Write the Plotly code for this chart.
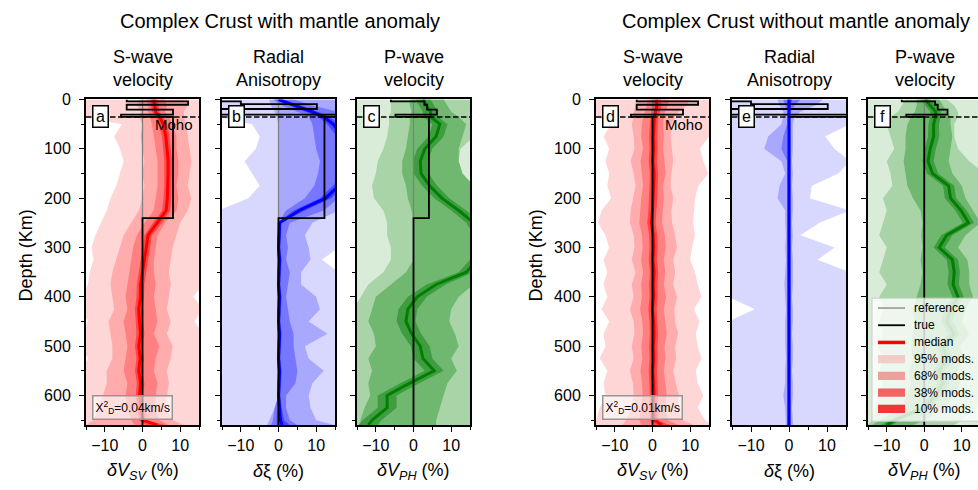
import plotly.graph_objects as go

FONT = "Liberation Sans, Arial, Helvetica, sans-serif"
W, H = 978, 490

# ---------------- data ----------------
depth = [0, 12, 25, 35, 50, 75, 100, 125, 150, 175, 200, 225, 250, 275, 300,
         325, 350, 375, 400, 425, 450, 475, 500, 525, 550, 575, 600, 625, 650, 660]

# panel a : dVsv, with mantle anomaly
a_med = [3.0, 3.2, 3.5, 4.5, 5.5, 6.2, 6.5, 6.8, 6.8, 6.8, 6.6, 6.3, 4.0, 1.5, 1.0, 0.5, 0.0, -0.5, -0.5, -1.0, -0.8, -0.5, -1.0, -0.6, -1.0, -0.5, -0.8, -0.5, 0.0, 4.0]
a_10lo = [2.0, 2.2, 2.5, 3.5, 4.3, 5.2, 5.5, 5.8, 5.8, 5.8, 5.6, 5.2, 2.8, 0.5, 0.0, -0.5, -1.0, -1.5, -1.6, -2.0, -1.8, -1.6, -2.0, -1.6, -2.0, -1.5, -1.8, -1.5, -1.0, 1.0]
a_10hi = [4.0, 4.2, 4.5, 5.5, 6.5, 7.2, 7.5, 7.8, 7.8, 7.8, 7.6, 7.4, 5.2, 2.5, 2.0, 1.5, 1.0, 0.5, 0.4, 0.0, 0.2, 0.5, 0.0, 0.4, 0.0, 0.5, 0.2, 0.5, 1.0, 6.0]
a_38lo = [1.0, 1.5, 1.5, 2.0, 2.5, 3.0, 3.5, 4.0, 4.0, 4.0, 3.5, 3.0, 0.5, -1.5, -2.5, -3.0, -3.5, -4.0, -4.5, -4.0, -5.0, -4.5, -4.0, -4.5, -5.0, -4.0, -4.5, -4.0, -3.0, -2.0]
a_38hi = [6.0, 6.5, 6.0, 7.0, 8.0, 9.0, 9.0, 9.5, 9.5, 9.0, 9.5, 9.0, 6.0, 4.0, 3.5, 3.0, 3.0, 3.5, 3.0, 3.5, 4.0, 3.0, 4.5, 3.5, 3.0, 4.0, 3.5, 3.0, 4.5, 7.0]
a_68lo = [-1.0, -1.5, -0.5, -1.0, 0.0, -0.5, 0.0, 0.5, 0.0, 0.5, 0.0, -1.0, -3.0, -5.0, -6.0, -7.0, -8.0, -8.5, -8.0, -7.5, -9.0, -8.5, -8.0, -8.0, -9.5, -9.5, -10.5, -11.5, -13.0, -15.0]
a_68hi = [12.0, 12.0, 11.0, 11.0, 11.5, 12.0, 12.5, 13.0, 12.5, 12.0, 13.0, 12.0, 10.0, 9.0, 8.0, 7.5, 7.0, 7.5, 7.0, 6.5, 7.5, 6.5, 8.0, 7.5, 6.5, 7.0, 6.5, 6.0, 8.0, 11.0]
a_95lo = [-16, -16, -16, -16, -5.5, -7.5, -6.0, -5.0, -6.0, -7.0, -8.5, -9.5, -11.0, -12.5, -13.5, -13.0, -14.0, -14.5, -16, -16, -14.5, -16, -16, -14.5, -16, -16, -16, -16, -16, -16]
a_95hi = [16, 16, 16, 16, 16, 16, 16, 16, 16, 16, 16, 16, 16, 16, 16, 16, 16, 16, 13.5, 16, 13.8, 16, 16, 16, 16, 16, 16, 16, 16, 16]

# panel b : dxi, with mantle anomaly
b_med = [0.0, 4.5, 9.0, 12.0, 14.5, 17.0, 18.0, 18.0, 18.0, 16.0, 12.5, 5.5, 0.3, 0.2, 0.0, 0.3, 0.2, 0.0, 0.3, 0.2, 0.0, 0.3, 0.2, 0.0, 0.3, 0.2, 0.0, 0.3, 0.5, 1.0]
b_10lo = [-1.0, 3.0, 7.5, 10.5, 13.0, 15.5, 16.5, 16.5, 16.5, 14.5, 11.0, 4.0, -0.2, -0.3, -0.4, -0.2, -0.3, -0.4, -0.2, -0.3, -0.4, -0.2, -0.3, -0.4, -0.2, -0.3, -0.4, -0.5, -0.5, -0.5]
b_10hi = [1.0, 6.0, 10.5, 13.5, 16.0, 18.5, 19.5, 19.5, 19.5, 17.5, 14.0, 7.0, 0.8, 0.7, 0.5, 0.8, 0.7, 0.5, 0.8, 0.7, 0.5, 0.8, 0.7, 0.5, 0.8, 0.7, 0.5, 0.8, 1.5, 3.0]
b_38lo = [-1.5, 1.0, 5.0, 8.0, 9.0, 9.5, 10.0, 11.0, 10.5, 9.5, 7.0, 2.0, 0.0, 0.0, 0.0, 0.0, 0.0, 0.0, 0.0, 0.0, 0.0, 0.0, 0.0, 0.0, 0.0, 0.0, 0.0, -1.0, -1.5, -2.0]
b_38hi = [4.0, 9.0, 16, 16, 16, 16, 16, 16, 16, 16, 16, 12.0, 3.0, 2.0, 2.5, 2.0, 3.0, 2.5, 2.0, 2.5, 3.0, 4.0, 4.0, 4.5, 5.0, 4.5, 2.0, 2.0, 3.0, 5.0]
b_68lo = [-2.5, -2.0, -1.0, -0.5, 0.0, 0.0, 0.2, 0.2, 0.2, 0.2, 0.2, 0.2, 0.0, 0.0, 0.0, 0.0, 0.0, 0.0, 0.0, 0.0, 0.0, 0.0, 0.0, 0.0, 0.0, 0.0, 0.0, -1.0, -2.5, -3.0]
b_68hi = [16, 16, 16, 16, 16, 16, 16, 16, 16, 16, 16, 16, 9.0, 7.0, 8.0, 8.5, 6.0, 6.0, 10.0, 11.0, 8.0, 13.0, 7.0, 8.0, 12.0, 9.0, 8.0, 8.5, 10.0, 15.0]
b_95lo = [-16, -16, -16, -16, -7.0, -5.0, -6.0, -9.0, -7.0, -5.0, -8.0, -16, -16, -16, -16, -16, -16, -16, -16, -16, -16, -16, -16, -16, -16, -16, -16, -16, -16, -16]
b_95hi = [16, 16, 16, 16, 16, 16, 16, 16, 16, 16, 16, 16, 16, 16, 16, 11.5, 16, 16, 16, 16, 16, 16, 16, 16, 16, 16, 16, 16, 16, 16]

# panel c : dVph, with mantle anomaly
c_med = [2.5, 3.5, 4.5, 4.5, 7.0, 6.0, 3.0, 1.8, 2.0, 4.3, 7.5, 12.0, 16.0, 18.0, 18.0, 17.0, 14.0, 6.0, 1.0, -1.5, -2.0, -0.5, 1.8, 2.5, 5.5, -1.0, -7.0, -7.0, -11.0, -12.0]
c_10lo = [0.5, 1.5, 2.5, 2.5, 5.0, 4.0, 1.0, -0.2, 0.0, 2.3, 5.5, 10.0, 14.0, 16.0, 16.0, 15.0, 12.0, 3.5, -1.5, -4.0, -4.5, -3.0, -0.7, 0.0, 3.0, -3.5, -9.5, -9.5, -13.5, -14.5]
c_10hi = [4.5, 5.5, 6.5, 6.5, 9.0, 8.0, 5.0, 3.8, 4.0, 6.3, 9.5, 14.0, 18.0, 20.0, 20.0, 19.0, 16.0, 8.5, 3.5, 1.0, 0.5, 2.0, 4.3, 5.0, 8.0, 1.5, -4.5, -4.5, -8.5, -9.5]
c_38lo = [-1.0, -1.0, -0.5, -1.0, -1.0, -1.5, -2.0, -3.0, -3.0, -2.0, -1.5, -0.5, 0.0, 0.0, 0.0, 0.0, -2.0, -6.0, -10.0, -11.0, -12.0, -10.5, -10.0, -12.0, -11.0, -12.0, -11.5, -13.0, -14.0, -14.5]
c_38hi = [8.0, 9.0, 10.0, 12.0, 14.0, 13.0, 12.0, 12.0, 13.0, 16, 16, 16, 16, 16, 16, 16, 16, 16, 12.0, 10.0, 9.5, 11.0, 12.0, 10.0, 11.5, 9.0, 8.0, 7.0, 6.0, 6.0]
c_68lo = [-6.0, -6.0, -6.0, -6.5, -6.5, -7.0, -8.0, -9.5, -10.0, -11.0, -10.5, -8.0, -7.0, -7.0, -6.0, -6.0, -8.0, -12.0, -14.0, -16, -16, -16, -16, -16, -16, -16, -16, -16, -16, -16]
c_68hi = [16, 16, 16, 16, 16, 16, 12.5, 12.0, 13.0, 16, 16, 16, 16, 16, 16, 16, 16, 16, 16, 16, 16, 16, 16, 16, 16, 16, 16, 16, 16, 16]
c_95lo = [-16] * 30
c_95hi = [16] * 30

# panel d : dVsv, without mantle anomaly
d_med = [1.0, 1.2, 0.8, 0.5, 0.4, 0.2, 0.3, 0.1, 0.4, 0.3, 0.2, 0.0, -0.3, 0.2, 0.3, 0.1, 0.4, 0.2, 0.3, 0.0, 0.3, 0.4, 0.2, 0.3, 0.1, 0.3, 0.4, 0.2, 0.5, 2.5]
d_10lo = [-0.2, 0.0, -0.3, -0.5, -0.7, -0.9, -0.8, -1.0, -0.7, -0.8, -0.9, -1.1, -1.4, -0.9, -0.8, -1.0, -0.7, -0.9, -0.8, -1.1, -0.8, -0.7, -0.9, -0.8, -1.0, -0.8, -0.7, -0.9, -0.6, 0.5]
d_10hi = [2.2, 2.4, 2.0, 1.5, 1.5, 1.3, 1.4, 1.2, 1.5, 1.4, 1.3, 1.1, 0.8, 1.3, 1.4, 1.2, 1.5, 1.3, 1.4, 1.1, 1.4, 1.5, 1.3, 1.4, 1.2, 1.4, 1.5, 1.3, 1.6, 4.5]
d_38lo = [-1.5, -1.5, -2.0, -2.5, -2.8, -3.0, -2.5, -3.2, -2.8, -2.5, -3.0, -3.2, -3.5, -2.8, -2.6, -3.0, -2.5, -3.0, -2.8, -3.3, -2.7, -2.5, -3.0, -2.7, -3.2, -2.8, -2.6, -3.0, -3.5, -3.0]
d_38hi = [4.5, 4.0, 3.5, 3.0, 2.8, 3.0, 2.8, 3.2, 3.5, 2.8, 3.0, 2.7, 2.5, 3.3, 3.5, 3.0, 3.4, 3.0, 3.6, 3.0, 3.3, 3.8, 3.2, 3.4, 3.0, 3.5, 3.8, 3.2, 4.0, 7.0]
d_68lo = [-4.0, -4.5, -5.0, -5.0, -5.5, -5.0, -4.8, -5.8, -5.0, -4.5, -5.2, -5.8, -6.0, -5.0, -4.8, -5.5, -4.5, -5.5, -5.0, -6.0, -5.0, -4.8, -5.5, -5.0, -6.0, -5.2, -5.0, -5.5, -7.0, -8.0]
d_68hi = [10.0, 9.0, 7.0, 6.0, 5.0, 4.8, 5.2, 5.5, 5.0, 4.8, 5.5, 5.0, 5.2, 6.0, 6.5, 5.5, 6.0, 5.5, 6.5, 5.8, 6.0, 6.8, 6.0, 6.3, 5.5, 6.2, 7.0, 6.5, 8.0, 11.0]
d_95lo = [-16, -16, -16, -15, -11.0, -13.0, -11.5, -12.5, -11.5, -12.0, -11.0, -13.5, -14.5, -12.5, -11.5, -13.0, -12.0, -13.0, -12.0, -13.5, -11.5, -13.0, -12.5, -14.0, -12.0, -13.0, -12.5, -14.0, -15.0, -16]
d_95hi = [16, 16, 16, 16, 16, 15.0, 12.6, 13.5, 14.8, 12.2, 11.3, 11.0, 10.8, 11.3, 10.5, 10.0, 11.3, 12.0, 13.0, 11.0, 12.5, 11.5, 12.0, 13.0, 11.5, 12.0, 13.5, 12.0, 14.0, 16]

# panel e : dxi, without mantle anomaly
e_med = [0.0, 0.0, 0.0, 0.0, 0.0, 0.0, 0.0, 0.0, 0.0, 0.0, 0.0, 0.0, 0.0, 0.0, 0.0, 0.0, 0.0, 0.0, 0.0, 0.0, 0.0, 0.0, 0.0, 0.0, 0.0, 0.0, 0.0, 0.0, 0.0, 0.0]
e_10lo = [-0.5, -0.3, -0.2, -0.2, -0.2, -0.3, -0.3, -0.2, -0.2, -0.2, -0.2, -0.2, -0.2, -0.2, -0.2, -0.2, -0.2, -0.2, -0.2, -0.2, -0.2, -0.2, -0.2, -0.2, -0.2, -0.2, -0.2, -0.2, -0.2, -0.2]
e_10hi = [0.8, 0.5, 0.2, 0.2, 0.2, 0.2, 0.2, 0.2, 0.2, 0.2, 0.2, 0.2, 0.2, 0.2, 0.2, 0.2, 0.2, 0.2, 0.2, 0.2, 0.2, 0.2, 0.2, 0.2, 0.2, 0.2, 0.2, 0.2, 0.2, 0.2]
e_38lo = [-1.5, -1.0, -0.5, -0.5, -0.5, -1.5, -2.0, -0.5, -0.5, -0.5, -0.5, -0.5, -0.5, -0.5, -0.5, -0.5, -0.5, -0.5, -0.5, -0.5, -0.5, -0.5, -0.5, -0.5, -0.5, -0.5, -0.5, -0.5, -0.5, -0.5]
e_38hi = [3.0, 1.5, 0.5, 0.5, 0.5, 0.5, 0.5, 0.5, 0.5, 0.5, 0.5, 0.5, 0.5, 0.5, 0.5, 0.5, 0.5, 0.5, 0.5, 0.5, 0.5, 0.5, 0.5, 0.5, 0.5, 0.5, 0.5, 0.5, 0.5, 0.5]
e_68lo = [-3.0, -2.5, -1.5, -1.5, -2.0, -5.5, -6.5, -2.0, -1.0, -2.5, -3.0, -1.0, -1.0, -0.8, -1.0, -0.8, -1.0, -1.2, -1.0, -0.8, -1.0, -1.0, -1.0, -0.8, -1.0, -1.0, -1.5, -1.0, -0.8, -0.8]
e_68hi = [9.0, 7.0, 3.0, 1.5, 1.0, 1.0, 1.0, 0.8, 1.0, 0.8, 1.0, 1.0, 0.8, 1.0, 0.8, 1.0, 1.0, 1.0, 0.8, 1.0, 1.0, 0.8, 1.0, 1.0, 0.8, 1.0, 1.0, 0.8, 1.0, 1.0]
e_95lo = [-16, -16, -16, -16, -16, -16, -16, -16, -16, -16, -16, -16, -16, -16, -16, -16, -16, -16, -16, -9.0, -16, -16, -16, -16, -16, -16, -16, -16, -16, -16]
e_95hi = [16, 16, 16, 16, 16, 9.5, 12.0, 16, 13.0, 6.0, 5.5, 16, 8.0, 3.0, 12.0, 7.5, 16, 16, 16, 16, 16, 16, 16, 16, 16, 16, 16, 16, 16, 16]

# panel f : dVph, without mantle anomaly
f_med = [0.3, 1.7, 3.0, 3.0, 2.5, 2.5, 1.6, 1.0, 2.2, 6.5, 7.0, 9.8, 11.8, 6.0, 4.0, 7.5, 8.0, 7.7, 9.0, 7.0, 6.0, 8.0, 5.0, 6.0, 4.0, 5.0, 3.0, 0.0, -8.0, -10.0]
f_10lo = [-1.0, 0.3, 1.6, 1.6, 1.1, 1.0, 0.1, -0.5, 0.7, 5.0, 5.5, 8.3, 10.3, 4.5, 2.5, 6.0, 6.5, 6.2, 7.5, 5.5, 4.5, 6.5, 3.5, 4.5, 2.5, 3.5, 1.5, -1.5, -9.5, -11.5]
f_10hi = [1.6, 3.1, 4.4, 4.4, 3.9, 4.0, 3.1, 2.5, 3.7, 8.0, 8.5, 11.3, 13.3, 7.5, 5.5, 9.0, 9.5, 9.2, 10.5, 8.5, 7.5, 9.5, 6.5, 7.5, 5.5, 6.5, 4.5, 1.5, -6.5, -8.5]
f_38lo = [-2.0, -2.0, -2.5, -3.5, -4.5, -5.0, -5.0, -5.5, -5.0, -4.5, -3.0, -1.0, -0.5, -0.8, -0.5, -1.0, -0.5, -1.0, -2.0, -3.0, -2.5, -3.0, -3.5, -3.0, -4.0, -3.5, -4.5, -6.0, -12.0, -14.0]
f_38hi = [4.0, 5.0, 6.0, 7.0, 7.0, 7.5, 7.0, 6.5, 7.5, 10.0, 11.0, 13.0, 15.0, 11.0, 9.0, 11.5, 12.0, 12.0, 13.0, 11.0, 10.0, 12.0, 9.5, 10.5, 9.0, 9.5, 8.0, 5.0, 0.0, -3.0]
f_68lo = [-5.0, -6.0, -7.0, -9.0, -10.0, -9.0, -8.0, -10.0, -9.0, -8.5, -11.0, -10.0, -11.0, -12.0, -10.0, -11.0, -12.0, -10.0, -12.0, -11.0, -12.0, -11.0, -12.5, -11.0, -12.0, -11.0, -12.0, -13.0, -14.0, -15.0]
f_68hi = [6.0, 8.0, 9.0, 9.0, 8.0, 8.0, 9.0, 12.0, 16, 16, 16, 16, 16, 16, 16, 16, 16, 16, 16, 16, 16, 16, 16, 16, 16, 16, 16, 14.0, 10.0, 8.0]
f_95lo = [-16] * 30
f_95hi = [16] * 30

# true (input) models: layer tops (km) and values (%)
tops_v = [0, 4, 10.7, 20.7, 30.7, 35.3, 240.7]
tops_xi = [0, 4, 9.3, 19.3, 30.7, 35.3, 240.7]
true_a = [-4.2, 12.1, -4.2, 8.1, -5.7, 8.1, 0]
true_b = [-25, -10, 10.2, -25, 25, 12.2, 0]
true_c = [-6.0, 2.9, 3.6, 6.2, -4.8, 4.1, 0]
true_d = [-4.2, 12.1, -4.2, 8.1, -5.7, 0, 0]
true_e = [-25, -10, 10.2, -25, 25, 0, 0]
true_f = [-6.0, 2.9, 3.6, 6.2, -4.8, 0, 0]
max_depth = 660
moho_depth = 35.3
ref_x = [0, 0]
ref_depth = [0, 660]
chi_a = "0.04"
chi_d = "0.01"
legend_labels = ["reference", "true", "median", "95% mods.", "68% mods.", "38% mods.", "10% mods."]

# ---------------- styles ----------------
PAL = {
    "red": dict(bands=["rgb(255,214,214)", "rgb(255,172,172)", "rgb(255,128,128)", "rgb(255,72,72)"], med="rgb(255,0,0)"),
    "blue": dict(bands=["rgb(216,216,255)", "rgb(168,168,255)", "rgb(118,118,255)", "rgb(70,70,255)"], med="rgb(0,0,255)"),
    "green": dict(bands=["rgb(216,236,216)", "rgb(168,212,168)", "rgb(112,184,112)", "rgb(64,156,64)"], med="rgb(0,128,0)"),
}
LEG_PATCH = ["rgb(242,205,200)", "rgb(238,160,155)", "rgb(240,100,100)", "rgb(240,55,55)"]

TOP, BOT = 93, 424
panels = [
    dict(L="a", px=(86, 199), xr=[-15, 15], pal="red", med=a_med,
         bands=[(a_95lo, a_95hi), (a_68lo, a_68hi), (a_38lo, a_38hi), (a_10lo, a_10hi)],
         tops=tops_v, true=true_a, title="S-wave<br>velocity", xt="<i>δV<sub>SV</sub></i> (%)",
         ylab=True, moho=True, chi=chi_a),
    dict(L="b", px=(222, 335), xr=[-15, 15], pal="blue", med=b_med,
         bands=[(b_95lo, b_95hi), (b_68lo, b_68hi), (b_38lo, b_38hi), (b_10lo, b_10hi)],
         tops=tops_xi, true=true_b, title="Radial<br>Anisotropy", xt="<i>δ</i>ξ (%)",
         ylab=False, moho=False, chi=None),
    dict(L="c", px=(357, 470), xr=[-15, 15], pal="green", med=c_med,
         bands=[(c_95lo, c_95hi), (c_68lo, c_68hi), (c_38lo, c_38hi), (c_10lo, c_10hi)],
         tops=tops_v, true=true_c, title="P-wave<br>velocity", xt="<i>δV<sub>PH</sub></i> (%)",
         ylab=False, moho=False, chi=None),
    dict(L="d", px=(596, 709), xr=[-15, 15], pal="red", med=d_med,
         bands=[(d_95lo, d_95hi), (d_68lo, d_68hi), (d_38lo, d_38hi), (d_10lo, d_10hi)],
         tops=tops_v, true=true_d, title="S-wave<br>velocity", xt="<i>δV<sub>SV</sub></i> (%)",
         ylab=True, moho=True, chi=chi_d),
    dict(L="e", px=(732, 846), xr=[-15, 15], pal="blue", med=e_med,
         bands=[(e_95lo, e_95hi), (e_68lo, e_68hi), (e_38lo, e_38hi), (e_10lo, e_10hi)],
         tops=tops_xi, true=true_e, title="Radial<br>Anisotropy", xt="<i>δ</i>ξ (%)",
         ylab=False, moho=False, chi=None, med_on_top=True),
    dict(L="f", px=(868, 978), xr=[-15, 14.33], pal="green", med=f_med,
         bands=[(f_95lo, f_95hi), (f_68lo, f_68hi), (f_38lo, f_38hi), (f_10lo, f_10hi)],
         tops=tops_v, true=true_f, title="P-wave<br>velocity", xt="<i>δV<sub>PH</sub></i> (%)",
         ylab=False, moho=False, chi=None, cut=True),
]


def step(tops, vals, bottom):
    xs, ys = [], []
    for i, v in enumerate(vals):
        top = tops[i]
        bot = tops[i + 1] if i + 1 < len(tops) else bottom
        xs += [v, v]
        ys += [top, bot]
    return xs, ys


def py(p):  # pixel y -> paper
    return 1 - p / H


fig = go.Figure()
annotations = []
shapes = []
layout = dict()

for i, p in enumerate(panels):
    n = i + 1
    sfx = "" if n == 1 else str(n)
    xa, ya = "x" + sfx, "y" + sfx
    pal = PAL[p["pal"]]
    for (lo, hi), col in zip(p["bands"], pal["bands"]):
        fig.add_trace(go.Scatter(x=list(lo) + list(hi)[::-1], y=depth + depth[::-1],
                                 fill="toself", fillcolor=col, mode="lines",
                                 line=dict(width=0, color=col), xaxis=xa, yaxis=ya,
                                 hoverinfo="skip", showlegend=False))
    fig.add_trace(go.Scatter(x=ref_x, y=ref_depth, mode="lines",
                             line=dict(color="rgb(128,128,128)", width=1.3),
                             xaxis=xa, yaxis=ya, showlegend=False, hoverinfo="skip"))
    tx, ty = step(p["tops"], p["true"], max_depth)
    med_tr = go.Scatter(x=p["med"], y=depth, mode="lines", line=dict(color=pal["med"], width=3),
                        xaxis=xa, yaxis=ya, showlegend=False, hoverinfo="skip")
    true_tr = go.Scatter(x=tx, y=ty, mode="lines", line=dict(color="black", width=1.8),
                         xaxis=xa, yaxis=ya, showlegend=False, hoverinfo="skip")
    if p.get("med_on_top"):
        fig.add_trace(true_tr)
        fig.add_trace(med_tr)
    else:
        fig.add_trace(med_tr)
        fig.add_trace(true_tr)

    x0, x1 = p["px"]
    layout["xaxis" + sfx] = dict(
        domain=[x0 / W, x1 / W], anchor=ya, range=p["xr"], showgrid=False, zeroline=False,
        showline=True, linecolor="black", linewidth=2, mirror=True,
        ticks="outside", ticklen=5, tickwidth=1.3, tickcolor="black", tick0=0, dtick=10,
        minor=dict(ticks="outside", ticklen=3, tickwidth=1, tickcolor="black", dtick=5, showgrid=False),
        tickfont=dict(family=FONT, size=16, color="black"))
    layout["yaxis" + sfx] = dict(
        domain=[py(BOT), py(TOP)], anchor=xa, range=[max_depth, 0], showgrid=False, zeroline=False,
        showline=True, linecolor="black", linewidth=2, mirror=not p.get("cut", False),
        ticks="outside", ticklen=5, tickwidth=1.3, tickcolor="black", tick0=0, dtick=100,
        minor=dict(ticks="outside", ticklen=3, tickwidth=1, tickcolor="black", dtick=50, showgrid=False),
        showticklabels=p["ylab"], tickfont=dict(family=FONT, size=16, color="black"),
        ticklabelstandoff=5)

    # Moho dashed line
    shapes.append(dict(type="line", xref=xa + " domain", x0=0, x1=1, yref=ya, y0=moho_depth, y1=moho_depth,
                       line=dict(color="black", width=1.5, dash="5.5px,2.5px"), layer="above"))
    cx = (x0 + (x1 if not p.get("cut") else x0 + 113)) / 2 / W
    annotations.append(dict(text=p["title"], xref="paper", yref="paper", x=cx, y=py(61),
                            xanchor="center", yanchor="middle", showarrow=False,
                            font=dict(family=FONT, size=18, color="black")))
    annotations.append(dict(text=p["xt"], xref="paper", yref="paper", x=cx, y=py(471),
                            xanchor="center", yanchor="middle", showarrow=False,
                            font=dict(family=FONT, size=18, color="black")))
    annotations.append(dict(text=p["L"], xref=xa + " domain", yref=ya + " domain",
                            x=6 / 113, y=1 - 6 / 331, xanchor="left", yanchor="top", showarrow=False,
                            bgcolor="white", bordercolor="black", borderwidth=1.5, borderpad=1,
                            width=12, height=18, font=dict(family=FONT, size=16, color="black")))
    if p["moho"]:
        annotations.append(dict(text="Moho", xref=xa + " domain", yref=ya, x=67 / 113, y=51,
                                xanchor="left", yanchor="middle", showarrow=False,
                                font=dict(family=FONT, size=15, color="black")))
    if p["chi"]:
        annotations.append(dict(text="X<sup>2</sup><sub>D</sub>=" + p["chi"] + "km/s",
                                xref=xa + " domain", yref=ya + " domain", x=6 / 113, y=5 / 331,
                                xanchor="left", yanchor="bottom", showarrow=False,
                                bgcolor="rgba(255,255,255,0.6)", bordercolor="rgb(150,150,150)",
                                borderwidth=1.5, borderpad=2,
                                font=dict(family=FONT, size=12, color="black")))
    if p["ylab"]:
        annotations.append(dict(text="Depth (Km)", xref="paper", yref="paper", x=(x0 - 60) / W,
                                y=py((TOP + BOT) / 2 - 7), xanchor="center", yanchor="middle",
                                textangle=-90, showarrow=False,
                                font=dict(family=FONT, size=18, color="black")))

# main titles
annotations.append(dict(text="Complex Crust with mantle anomaly", xref="paper", yref="paper",
                        x=279.5 / W, y=py(13), xanchor="center", yanchor="middle", showarrow=False,
                        font=dict(family=FONT, size=20, color="black")))
annotations.append(dict(text="Complex Crust without mantle anomaly", xref="paper", yref="paper",
                        x=795.5 / W, y=py(13), xanchor="center", yanchor="middle", showarrow=False,
                        font=dict(family=FONT, size=20, color="black")))

# legend (inside panel f)
lx0, ly0, ly1 = 872, 295, 420
shapes.append(dict(type="rect", xref="paper", yref="paper", x0=lx0 / W, x1=1.01, y0=py(ly1), y1=py(ly0),
                   fillcolor="rgba(255,255,255,0.8)", line=dict(color="rgb(204,204,204)", width=1),
                   layer="above"))
row_y = [305, 322.5, 340, 357, 374, 391, 407.5]
line_styles = [("rgb(128,128,128)", 1.3), ("black", 1.8), ("rgb(255,0,0)", 3.5)]
for k, lab in enumerate(legend_labels):
    yy = py(row_y[k])
    if k < 3:
        col, wdt = line_styles[k]
        shapes.append(dict(type="line", xref="paper", yref="paper", x0=878 / W, x1=905 / W, y0=yy, y1=yy,
                           line=dict(color=col, width=wdt), layer="above"))
    else:
        shapes.append(dict(type="rect", xref="paper", yref="paper", x0=878 / W, x1=905 / W,
                           y0=py(row_y[k] + 4.2), y1=py(row_y[k] - 4.2),
                           fillcolor=LEG_PATCH[k - 3], line=dict(width=0), layer="above"))
    annotations.append(dict(text=lab, xref="paper", yref="paper", x=912 / W, y=yy, xanchor="left",
                            yanchor="middle", showarrow=False,
                            font=dict(family=FONT, size=12, color="black")))

fig.update_layout(**layout)
fig.update_layout(width=W, height=H, margin=dict(l=0, r=0, t=0, b=0),
                  paper_bgcolor="white", plot_bgcolor="white", showlegend=False,
                  annotations=annotations, shapes=shapes)
fig.write_html("out.html")
